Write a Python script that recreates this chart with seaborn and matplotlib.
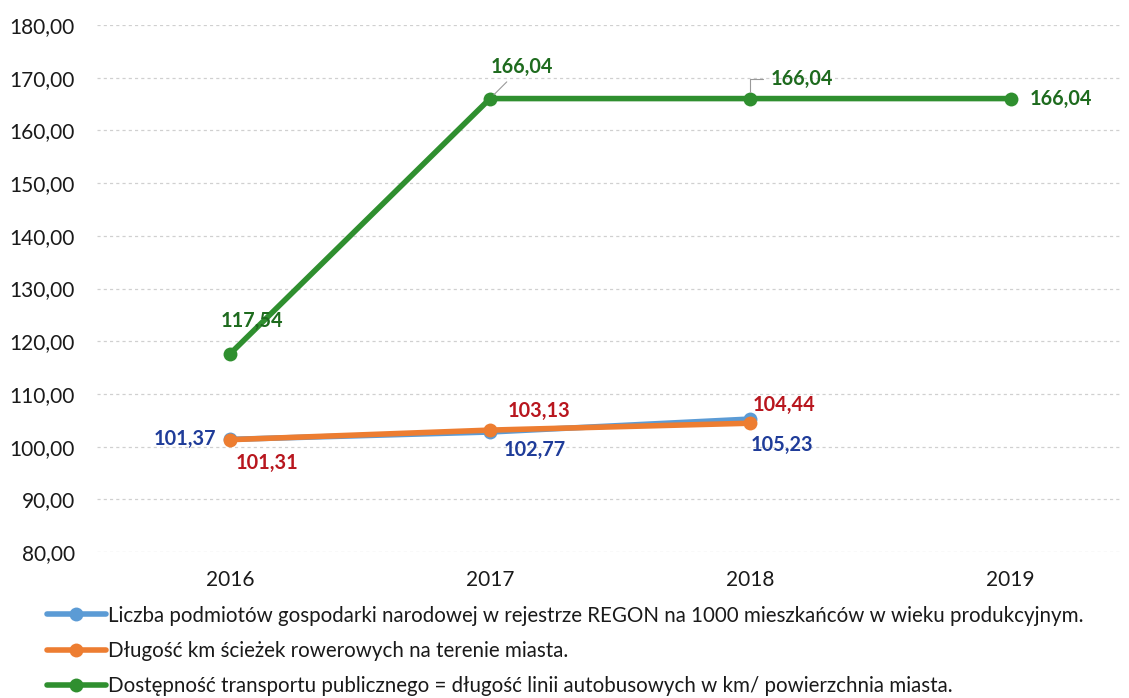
import pandas as pd
import matplotlib.pyplot as plt
import seaborn as sns
from matplotlib.lines import Line2D
from matplotlib.ticker import FuncFormatter

# -------------------------
# Data
# -------------------------
years = [2016, 2017, 2018, 2019]

regon = [101.37, 102.77, 105.23]
bike_km = [101.31, 103.13, 104.44]
bus_access = [117.54, 166.04, 166.04, 166.04]

series_names = [
    "Liczba podmiotów gospodarki narodowej w rejestrze REGON na 1000 mieszkańców w wieku produkcyjnym.",
    "Długość km ścieżek rowerowych na terenie miasta.",
    "Dostępność transportu publicznego = długość linii autobusowych w km/ powierzchnia miasta.",
]

line_colors = ["#5B9BD5", "#ED7D31", "#2F8F2F"]
label_colors = ["#1F3C99", "#B8161E", "#1E6B1E"]

df = pd.concat([
    pd.DataFrame({"rok": years[:len(regon)], "wartosc": regon, "seria": series_names[0]}),
    pd.DataFrame({"rok": years[:len(bike_km)], "wartosc": bike_km, "seria": series_names[1]}),
    pd.DataFrame({"rok": years[:len(bus_access)], "wartosc": bus_access, "seria": series_names[2]}),
])

# -------------------------
# Plot
# -------------------------
sns.set_style("white")
plt.rcParams["font.family"] = ["Lato", "DejaVu Sans"]

fig = plt.figure(figsize=(11.29, 6.98), dpi=100)
ax = fig.add_axes([97 / 1129, 1 - 552 / 698, 1023 / 1129, 527 / 698])

sns.lineplot(
    data=df, x="rok", y="wartosc", hue="seria",
    palette=dict(zip(series_names, line_colors)),
    marker="o", markersize=10, markeredgewidth=0,
    linewidth=4, legend=False, ax=ax,
)

ax.set_xlim(2015.49, 2019.42)
ax.set_ylim(80, 180)
ax.set_yticks(range(80, 181, 10))
ax.set_xticks(years)
ax.yaxis.set_major_formatter(FuncFormatter(lambda v, p: f"{v:.2f}".replace(".", ",")))
ax.set_xlabel("")
ax.set_ylabel("")
ax.tick_params(axis="both", length=0, labelsize=15, colors="#1A1A1A")
ax.tick_params(axis="y", pad=16)
ax.tick_params(axis="x", pad=13)
ax.grid(axis="y", linestyle=(0, (2.5, 2.5)), color="#D0D0D0", linewidth=0.9)
for s in ax.spines.values():
    s.set_visible(False)


def fmt(v):
    return f"{v:.2f}".replace(".", ",")


lab = dict(fontsize=14.3, fontweight="bold", ha="center", va="center")

# blue labels (offsets in points)
blue_off = [(-32, 0), (32, -13), (23, -19)]
for x, v, (dx, dy) in zip(years, regon, blue_off):
    ax.annotate(fmt(v), (x, v), xytext=(dx, dy), textcoords="offset points",
                color=label_colors[0], **lab)

# orange labels
orange_off = [(27, -17), (35, 14), (24, 13)]
for x, v, (dx, dy) in zip(years, bike_km, orange_off):
    ax.annotate(fmt(v), (x, v), xytext=(dx, dy), textcoords="offset points",
                color=label_colors[1], **lab)

# green labels
ax.annotate(fmt(bus_access[0]), (years[0], bus_access[0]), xytext=(16, 24), textcoords="offset points",
            color=label_colors[2], **lab)
ax.annotate(fmt(bus_access[1]), (years[1], bus_access[1]), xytext=(23, 23), textcoords="offset points",
            color=label_colors[2],
            arrowprops=dict(arrowstyle="-", color="#999999", lw=0.8, shrinkA=2, shrinkB=4), **lab)
ax.annotate(fmt(bus_access[2]), (years[2], bus_access[2]), xytext=(37, 14), textcoords="offset points",
            color=label_colors[2],
            arrowprops=dict(arrowstyle="-", color="#999999", lw=0.8, shrinkA=3, shrinkB=5,
                            connectionstyle="angle,angleA=0,angleB=90,rad=0"), **lab)
ax.annotate(fmt(bus_access[3]), (years[3], bus_access[3]), xytext=(36, 0), textcoords="offset points",
            color=label_colors[2], **lab)

# legend
handles = [
    Line2D([], [], color=c, marker="o", markersize=10, markeredgewidth=0, linewidth=4)
    for c in line_colors
]
fig.legend(handles, series_names, loc="upper left", bbox_to_anchor=(28 / 1129, 1 - 587 / 698),
           frameon=False, fontsize=14.8, handlelength=2.9, handletextpad=0.1,
           labelspacing=0.75, labelcolor="#1A1A1A")

fig.savefig("out.png", dpi=100)
